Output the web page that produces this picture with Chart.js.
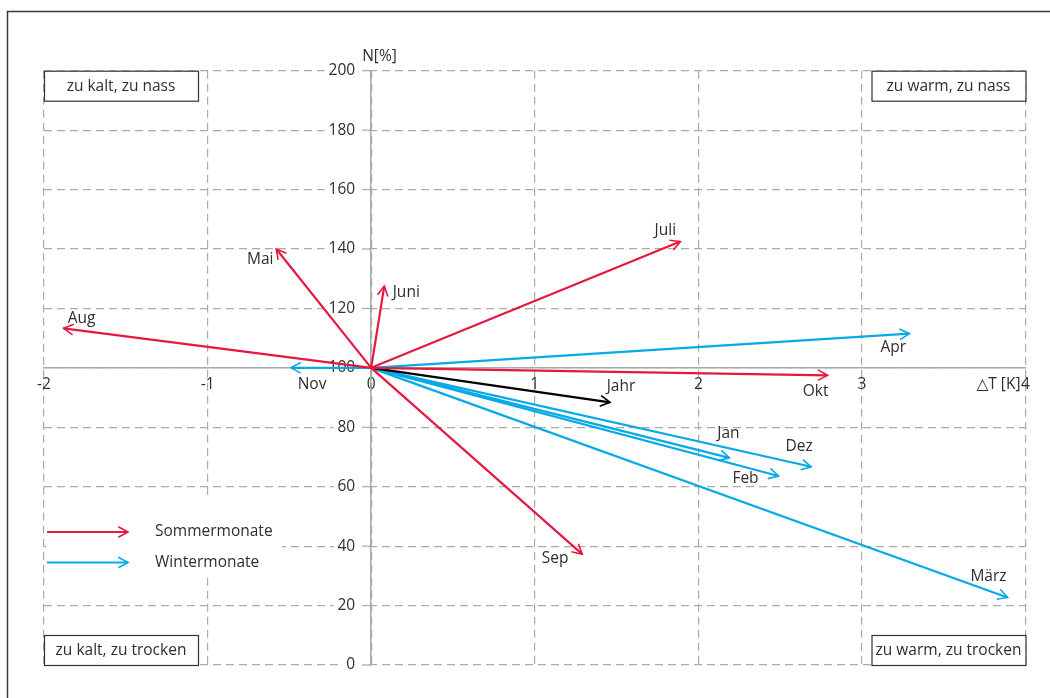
<!DOCTYPE html>
<html lang="de">
<head>
  <meta charset="UTF-8">
  <title>Temperatur- und Niederschlagsabweichung</title>
  <script src="https://cdn.jsdelivr.net/npm/chart.js"></script>
  <style>
    html, body { margin: 0; padding: 0; background: #fff; }
    canvas { display: block; }
  </style>
</head>
<body>
  <canvas id="chart" width="1050" height="698"></canvas>
  <script>
    // Abweichung vom langjährigen Mittel: dT in K, N in %
    const summerMonths = ['Mai', 'Juni', 'Juli', 'Aug', 'Sep', 'Okt'];
    const summerDT = [-0.58, 0.08, 1.89, -1.88, 1.29, 2.79];
    const summerN = [140, 127.5, 142.5, 113.3, 37.3, 97.5];

    const winterMonths = ['Nov', 'Dez', 'Jan', 'Feb', 'März', 'Apr'];
    const winterDT = [-0.49, 2.69, 2.19, 2.49, 3.89, 3.29];
    const winterN = [100, 66.7, 69.7, 63.6, 22.7, 111.5];

    const yearLabel = 'Jahr';
    const yearDT = 1.46;
    const yearN = 88.4;

    const xTicks = [-2, -1, 0, 1, 2, 3, 4];
    const yTicks = [0, 20, 40, 60, 80, 100, 120, 140, 160, 180, 200];
    const legendLabels = ['Sommermonate', 'Wintermonate'];
    const quadrantLabels = ['zu kalt, zu nass', 'zu warm, zu nass', 'zu kalt, zu trocken', 'zu warm, zu trocken'];

    const RED = '#e8173f';
    const BLUE = '#07a9e6';
    const TEXT = '#2e2e2e';
    const FAMILY = '"Open Sans", "DejaVu Sans", sans-serif';
    const FONT = '15.5px ' + FAMILY;

    // where each name sits relative to its arrow tip (px)
    const labelOffset = {
      Mai: [-16, 11], Juni: [22, 6], Juli: [-15, -11], Aug: [18, -10], Sep: [-27, 4], Okt: [-12, 16],
      Nov: [21, 17], Dez: [-12, -20], Jan: [-1, -24], Feb: [-33, 3], 'März': [-19, -21], Apr: [-16, 14],
      Jahr: [11, -16]
    };

    function arrowDataset(name, dt, n, color) {
      return {
        label: name,
        data: [{ x: 0, y: 100 }, { x: dt, y: n }],
        borderColor: color,
        borderWidth: 2.2,
        pointRadius: 0,
        showLine: true
      };
    }

    const datasets = [];
    summerMonths.forEach((m, i) => datasets.push(arrowDataset(m, summerDT[i], summerN[i], RED)));
    datasets.push(arrowDataset(yearLabel, yearDT, yearN, '#000'));
    winterMonths.forEach((m, i) => datasets.push(arrowDataset(m, winterDT[i], winterN[i], BLUE)));

    function arrowHead(ctx, x0, y0, x1, y1, color) {
      const a = Math.atan2(y1 - y0, x1 - x0);
      const len = 11, spread = 0.5;
      ctx.save();
      ctx.strokeStyle = color;
      ctx.lineWidth = 1.6;
      ctx.beginPath();
      ctx.moveTo(x1 - len * Math.cos(a - spread), y1 - len * Math.sin(a - spread));
      ctx.lineTo(x1, y1);
      ctx.lineTo(x1 - len * Math.cos(a + spread), y1 - len * Math.sin(a + spread));
      ctx.stroke();
      ctx.restore();
    }

    const overlay = {
      id: 'overlay',
      beforeDatasetsDraw(chart) {
        const { ctx, chartArea: ca } = chart;
        const xs = chart.scales.x, ys = chart.scales.y;
        ctx.save();
        ctx.font = FONT;
        // y tick labels + tick marks, left of the centred axis
        ctx.textAlign = 'right';
        ctx.textBaseline = 'middle';
        const axisX = xs.getPixelForValue(0);
        ys.ticks.forEach(t => {
          const py = ys.getPixelForValue(t.value);
          const txt = String(t.value);
          const tw = ctx.measureText(txt).width;
          if (t.value !== 100) {
            ctx.fillStyle = '#fff';
            ctx.fillRect(axisX - 20 - tw, py - 3, tw + 12, 6);
          }
          ctx.fillStyle = TEXT;
          ctx.fillText(txt, axisX - 16, py);
          ctx.strokeStyle = '#aaa';
          ctx.lineWidth = 1.2;
          ctx.beginPath();
          ctx.moveTo(axisX - 9, py);
          ctx.lineTo(axisX, py);
          ctx.stroke();
        });
        // quadrant boxes
        const w = 154, h = 30;
        const spots = [[ca.left, ca.top], [ca.right - w, ca.top], [ca.left, ca.bottom - h], [ca.right - w, ca.bottom - h]];
        ctx.textAlign = 'center';
        quadrantLabels.forEach((t, i) => {
          const [bx, by] = spots[i];
          ctx.fillStyle = '#fff';
          ctx.fillRect(bx, by, w, h);
          ctx.strokeStyle = '#333';
          ctx.lineWidth = 1.2;
          ctx.strokeRect(bx + 0.5, by + 0.5, w, h);
          ctx.fillStyle = TEXT;
          ctx.fillText(t, bx + w / 2, by + h / 2 + 1);
        });
        // legend
        ctx.fillStyle = '#fff';
        ctx.fillRect(ca.left + 2, ca.bottom - 169, 236, 80);
        const rows = [[ca.bottom - 133, RED], [ca.bottom - 102.5, BLUE]];
        ctx.textAlign = 'left';
        legendLabels.forEach((t, i) => {
          const [ly, col] = rows[i];
          const x0 = ca.left + 3, x1 = ca.left + 84;
          ctx.strokeStyle = col;
          ctx.lineWidth = 2.2;
          ctx.beginPath();
          ctx.moveTo(x0, ly);
          ctx.lineTo(x1, ly);
          ctx.stroke();
          arrowHead(ctx, x0, ly, x1, ly, col);
          ctx.fillStyle = TEXT;
          ctx.fillText(t, ca.left + 111, ly);
        });
        ctx.restore();
      },
      afterDatasetsDraw(chart) {
        const { ctx } = chart;
        const xs = chart.scales.x, ys = chart.scales.y;
        ctx.save();
        ctx.font = FONT;
        ctx.textAlign = 'center';
        ctx.textBaseline = 'middle';
        chart.data.datasets.forEach(ds => {
          const p0 = ds.data[0], p1 = ds.data[1];
          const x0 = xs.getPixelForValue(p0.x), y0 = ys.getPixelForValue(p0.y);
          const x1 = xs.getPixelForValue(p1.x), y1 = ys.getPixelForValue(p1.y);
          arrowHead(ctx, x0, y0, x1, y1, ds.borderColor);
          const off = labelOffset[ds.label] || [0, -14];
          ctx.fillStyle = TEXT;
          ctx.fillText(ds.label, x1 + off[0], y1 + off[1]);
        });
        ctx.restore();
      },
      afterDraw(chart) {
        const { ctx, chartArea: ca } = chart;
        const xs = chart.scales.x, ys = chart.scales.y;
        ctx.save();
        ctx.font = FONT;
        ctx.fillStyle = TEXT;
        ctx.textBaseline = 'middle';
        ctx.textAlign = 'left';
        ctx.fillText('N[%]', xs.getPixelForValue(0) - 9, ca.top - 14);
        ctx.textAlign = 'right';
        ctx.fillText('\u25B3T [K]', xs.getPixelForValue(4) - 5, ys.getPixelForValue(100) + 17);
        // outer frame
        ctx.strokeStyle = '#3a3a3a';
        ctx.lineWidth = 1.5;
        ctx.beginPath();
        ctx.moveTo(7.5, chart.height);
        ctx.lineTo(7.5, 11.5);
        ctx.lineTo(chart.width, 11.5);
        ctx.stroke();
        ctx.restore();
      }
    };

    const gridStyle = { color: '#aaa', lineWidth: 1.2, drawTicks: false };
    const borderStyle = { color: '#aaa', width: 1.5, dash: [8, 5] };

    new Chart(document.getElementById('chart'), {
      type: 'scatter',
      data: { datasets },
      options: {
        responsive: false,
        animation: false,
        layout: { padding: { left: 44, right: 24.5, top: 70.7, bottom: 33 } },
        plugins: { legend: { display: false }, tooltip: { enabled: false } },
        scales: {
          x: {
            type: 'linear',
            position: { y: 100 },
            min: -2, max: 4,
            afterBuildTicks: s => { s.ticks = xTicks.map(v => ({ value: v })); },
            grid: gridStyle,
            border: borderStyle,
            ticks: { color: TEXT, font: { family: FAMILY, size: 15.5 }, padding: 7, maxRotation: 0, autoSkip: false }
          },
          y: {
            type: 'linear',
            position: { x: 0 },
            min: 0, max: 200,
            afterBuildTicks: s => { s.ticks = yTicks.map(v => ({ value: v })); },
            grid: gridStyle,
            border: borderStyle,
            ticks: { display: false }
          }
        }
      },
      plugins: [overlay]
    });
  </script>
</body>
</html>
